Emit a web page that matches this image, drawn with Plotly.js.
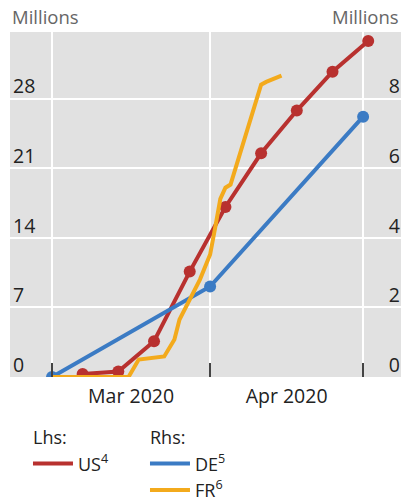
<!DOCTYPE html>
<html><head><meta charset="utf-8">
<script src="https://cdn.plot.ly/plotly-3.0.1.min.js"></script>
<style>html,body{margin:0;padding:0;background:#fff;overflow:hidden;}#chart{width:401px;height:500px;}</style>
</head><body><div id="chart"></div>
<script>
// US (lhs, millions) weekly
const usDates = ['2020-03-07','2020-03-14','2020-03-21','2020-03-28','2020-04-04','2020-04-11','2020-04-18','2020-04-25','2020-05-02'];
const usValues = [0.3, 0.55, 3.6, 10.6, 17.1, 22.5, 26.8, 30.7, 33.8];
// DE (rhs, millions) monthly
const deDates = ['2020-03-01','2020-04-01','2020-05-01'];
const deValues = [0, 2.6, 7.48];
// FR (rhs, millions)
const frDates = ['2020-03-01','2020-03-16','2020-03-18','2020-03-23','2020-03-25','2020-03-26','2020-03-30','2020-04-01','2020-04-02','2020-04-03','2020-04-04','2020-04-05','2020-04-11','2020-04-12','2020-04-15'];
const frValues = [0, 0, 0.5, 0.59, 1.08, 1.65, 2.8, 3.52, 4.3, 5.12, 5.44, 5.53, 8.4, 8.48, 8.66];
const leftTicks = [0, 7, 14, 21, 28];
const rightTicks = [0, 2, 4, 6, 8];

const RED = '#b8312f', BLUE = '#3b7bc4', ORANGE = '#f3aa1c';
const leftMax = 34.7;

const traces = [
  {x: deDates, y: deValues, yaxis: 'y2', mode: 'lines', line: {color: BLUE, width: 4},
   name: 'DE<sup>5</sup>', legendgroup: 'rhs', legendgrouptitle: {text: 'Rhs:'}, legendrank: 2},
  {x: deDates, y: deValues, yaxis: 'y2', mode: 'markers', marker: {color: BLUE, size: 12},
   showlegend: false, legendgroup: 'rhs'},
  {x: usDates, y: usValues, mode: 'lines', line: {color: RED, width: 4},
   name: 'US<sup>4</sup>', legendgroup: 'lhs', legendgrouptitle: {text: 'Lhs:'}, legendrank: 1},
  {x: usDates, y: usValues, mode: 'markers', marker: {color: RED, size: 12},
   showlegend: false, legendgroup: 'lhs'},
  {x: frDates, y: frValues, yaxis: 'y2', mode: 'lines', line: {color: ORANGE, width: 4},
   name: 'FR<sup>6</sup>', legendgroup: 'rhs', legendrank: 3}
];

const layout = {
  width: 401, height: 500,
  margin: {l: 10, r: 0, t: 32, b: 122.5, pad: 0},
  paper_bgcolor: '#ffffff', plot_bgcolor: '#e1e1e1',
  font: {family: 'Open Sans, sans-serif', size: 18, color: '#222'},
  showlegend: true,
  xaxis: {type: 'date', range: ['2020-02-21 18:14', '2020-05-08 10:19'], automargin: false,
    tick0: '2020-03-01', dtick: 'M1', ticklabelmode: 'period', tickformat: '%b %Y',
    ticks: 'inside', ticklen: 14, tickwidth: 1.5, tickcolor: '#444', ticklabelstandoff: 5,
    showgrid: true, gridcolor: '#ffffff', gridwidth: 2, zeroline: false, showline: false,
    tickfont: {size: 19.5, color: '#222'}},
  yaxis: {range: [0, leftMax], tickvals: leftTicks, automargin: false,
    side: 'right', anchor: 'free', position: 0, ticklabelposition: 'outside',
    ticklabelshift: -12, ticklabelstandoff: 2,
    showgrid: true, gridcolor: '#ffffff', gridwidth: 2, zeroline: false, showline: false, ticks: '',
    tickfont: {size: 19.5, color: '#222'}},
  yaxis2: {overlaying: 'y', range: [0, leftMax * 2 / 7], tickvals: rightTicks, automargin: false,
    side: 'left', anchor: 'free', position: 1, ticklabelposition: 'outside',
    ticklabelshift: -12, ticklabelstandoff: 1,
    showgrid: false, zeroline: false, showline: false, ticks: '',
    tickfont: {size: 19.5, color: '#222'}},
  legend: {orientation: 'h', xref: 'paper', x: 0.046, xanchor: 'left',
    yref: 'container', y: 0.162, yanchor: 'top',
    traceorder: 'grouped', entrywidth: 62, itemwidth: 40,
    font: {size: 18, color: '#222'}, grouptitlefont: {size: 18, color: '#222'},
    bgcolor: 'rgba(0,0,0,0)'},
  annotations: [
    {xref: 'paper', yref: 'paper', x: 0, y: 1, xanchor: 'left', yanchor: 'bottom', yshift: 1,
     text: 'Millions', showarrow: false, font: {size: 18.5, color: '#666'}},
    {xref: 'paper', yref: 'paper', x: 1, y: 1, xanchor: 'right', yanchor: 'bottom', yshift: 1,
     text: 'Millions', showarrow: false, font: {size: 18.5, color: '#666'}}
  ]
};

Plotly.newPlot('chart', traces, layout, {displayModeBar: false, staticPlot: true});
</script>
</body></html>
